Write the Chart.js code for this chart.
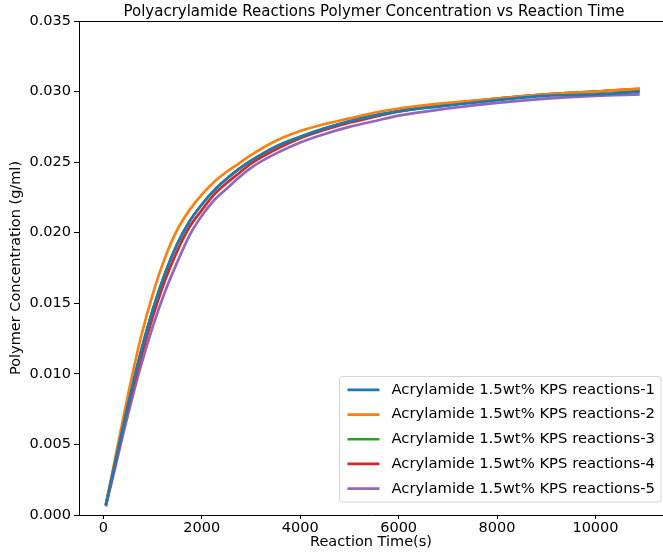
<!DOCTYPE html>
<html><head><meta charset="utf-8">
<script src="https://cdn.jsdelivr.net/npm/chart.js@4.4.1/dist/chart.umd.min.js"></script>
<style>html,body{margin:0;padding:0;overflow:hidden;background:#fff;width:663px;height:552px}canvas{display:block}</style>
</head><body><canvas id="c" width="663" height="552"></canvas>
<script>
// Reaction time (s)
const times = [50, 250, 500, 750, 1000, 1250, 1500, 1750, 2000, 2250, 2500, 2750, 3000, 3500, 4000, 4500, 5000, 5500, 6000, 7000, 8000, 9000, 10000, 10900];
// Polymer concentration (g/ml) per run
const run1 = [0.0007, 0.0039, 0.0078, 0.0114, 0.0145, 0.0171, 0.0192, 0.0208, 0.0220, 0.0230, 0.0238, 0.0245, 0.0251, 0.0261, 0.0268, 0.0274, 0.0279, 0.0283, 0.0286, 0.0290, 0.0294, 0.0297, 0.0298, 0.0300];
const run2 = [0.0007, 0.0042, 0.0085, 0.0124, 0.0156, 0.0182, 0.0202, 0.0216, 0.0227, 0.0236, 0.0243, 0.0249, 0.0255, 0.0265, 0.0272, 0.0277, 0.0281, 0.0285, 0.0288, 0.0292, 0.0295, 0.0298, 0.0300, 0.0302];
const run3 = [0.0007, 0.0039, 0.0078, 0.0114, 0.0145, 0.0171, 0.0192, 0.0208, 0.0220, 0.0230, 0.0238, 0.0245, 0.0251, 0.0261, 0.0268, 0.0274, 0.0279, 0.0283, 0.0286, 0.0291, 0.0295, 0.0298, 0.0300, 0.0301];
const run4 = [0.0007, 0.0038, 0.0076, 0.0110, 0.0140, 0.0166, 0.0187, 0.0204, 0.0216, 0.0227, 0.0235, 0.0242, 0.0249, 0.0259, 0.0267, 0.0273, 0.0278, 0.0282, 0.0286, 0.0291, 0.0295, 0.0298, 0.0300, 0.0302];
const run5 = [0.0006, 0.0035, 0.0071, 0.0104, 0.0133, 0.0158, 0.0179, 0.0198, 0.0212, 0.0223, 0.0231, 0.0239, 0.0246, 0.0256, 0.0264, 0.0270, 0.0275, 0.0279, 0.0283, 0.0288, 0.0292, 0.0295, 0.0297, 0.0298];
const seriesLabels = ['Acrylamide 1.5wt% KPS reactions-1','Acrylamide 1.5wt% KPS reactions-2','Acrylamide 1.5wt% KPS reactions-3','Acrylamide 1.5wt% KPS reactions-4','Acrylamide 1.5wt% KPS reactions-5'];
const xTicks = [0, 2000, 4000, 6000, 8000, 10000];
const yTicks = [0, 0.005, 0.010, 0.015, 0.020, 0.025, 0.030, 0.035];
const titleText = 'Polyacrylamide Reactions Polymer Concentration vs Reaction Time';
const xTitle = 'Reaction Time(s)';
const yTitle = 'Polymer Concentration (g/ml)';

const colors = ['#1f77b4','#ff7f0e','#2ca02c','#d62728','#9467bd'];
const FONT = '"DejaVu Sans", sans-serif';
const FS = 14.5;
const FS_BIG = 15;
const FS_LEG = 14.8;
const LW = 2.7;
Chart.defaults.font.family = FONT;
Chart.defaults.font.size = FS;
Chart.defaults.color = '#000';

const runs = [run1, run2, run3, run4, run5];
const datasets = runs.map((r, i) => ({
  label: seriesLabels[i],
  data: times.map((t, j) => ({x: t, y: r[j]})),
  borderColor: colors[i],
  backgroundColor: colors[i],
  borderWidth: LW,
  pointRadius: 0,
  fill: false,
  cubicInterpolationMode: 'monotone'
}));

const extras = {
  id: 'extras',
  afterDraw(chart) {
    const {ctx, chartArea: a} = chart;
    ctx.save();
    // top spine (right spine lies outside the picture)
    ctx.strokeStyle = '#000';
    ctx.lineWidth = 1;
    ctx.beginPath();
    ctx.moveTo(Math.round(a.left), Math.round(a.top) + 0.5);
    ctx.lineTo(chart.width, Math.round(a.top) + 0.5);
    ctx.stroke();
    // title
    ctx.fillStyle = '#000';
    ctx.font = FS_BIG + 'px ' + FONT;
    ctx.textAlign = 'center';
    ctx.textBaseline = 'middle';
    ctx.fillText(titleText, 374, 12);
    // legend (lower right, inside axes)
    ctx.font = FS_LEG + 'px ' + FONT;
    let tw = 0;
    seriesLabels.forEach(s => { tw = Math.max(tw, ctx.measureText(s).width); });
    const rowH = 24.7;
    const lpad = 8, handle = 32, hpad = 12, rpad = 6;
    const w = lpad + handle + hpad + tw + rpad;
    const h = rowH * seriesLabels.length + 2;
    const right = 661, bottom = a.bottom - 13;
    const left = right - w, top = bottom - h;
    ctx.beginPath();
    const r = 3;
    ctx.moveTo(left + r, top);
    ctx.arcTo(right, top, right, bottom, r);
    ctx.arcTo(right, bottom, left, bottom, r);
    ctx.arcTo(left, bottom, left, top, r);
    ctx.arcTo(left, top, right, top, r);
    ctx.closePath();
    ctx.fillStyle = 'rgba(255,255,255,0.8)';
    ctx.fill();
    ctx.strokeStyle = 'rgba(204,204,204,0.8)';
    ctx.lineWidth = 1;
    ctx.stroke();
    ctx.textAlign = 'left';
    seriesLabels.forEach((s, i) => {
      const cy = top + 1 + rowH * (i + 0.5);
      ctx.strokeStyle = colors[i];
      ctx.lineWidth = LW;
      ctx.beginPath();
      ctx.moveTo(left + lpad, cy);
      ctx.lineTo(left + lpad + handle, cy);
      ctx.stroke();
      ctx.fillStyle = '#000';
      ctx.fillText(s, left + lpad + handle + hpad, cy);
    });
    ctx.restore();
  }
};

new Chart(document.getElementById('c'), {
  type: 'line',
  data: { datasets },
  options: {
    responsive: false,
    animation: false,
    devicePixelRatio: 1,
    layout: { padding: { top: 21, right: 0, left: 0, bottom: 0 } },
    plugins: { legend: { display: false }, title: { display: false }, tooltip: { enabled: false } },
    scales: {
      x: {
        type: 'linear',
        min: -495, max: 11372,
        afterBuildTicks: s => { s.ticks = xTicks.map(v => ({value: v})); },
        afterFit: s => { s.height = 37; },
        ticks: { color: '#000', padding: 1, maxRotation: 0, autoSkip: false, callback: v => String(v) },
        grid: { display: true, drawOnChartArea: false, drawTicks: true, tickLength: 4, color: '#000' },
        border: { display: true, color: '#000', width: 1 },
        title: { display: true, text: xTitle, color: '#000', padding: { top: 0, bottom: 1 } }
      },
      y: {
        type: 'linear',
        min: 0, max: 0.035,
        afterBuildTicks: s => { s.ticks = yTicks.map(v => ({value: v})); },
        afterFit: s => { s.width = 79; },
        ticks: { color: '#000', padding: 3, autoSkip: false, callback: v => v.toFixed(3) },
        grid: { display: true, drawOnChartArea: false, drawTicks: true, tickLength: 5, color: '#000' },
        border: { display: true, color: '#000', width: 1 },
        title: { display: true, text: yTitle, color: '#000', padding: { top: 8, bottom: 0 } }
      }
    }
  },
  plugins: [extras]
});
</script>
</body></html>
